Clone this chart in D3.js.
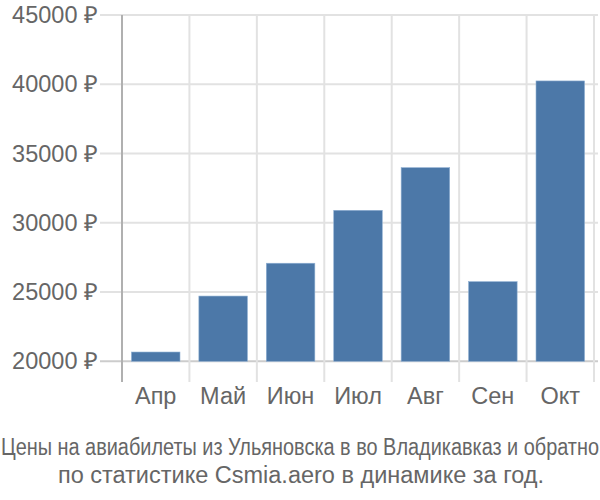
<!DOCTYPE html>
<html>
<head>
<meta charset="utf-8">
<script src="https://cdn.jsdelivr.net/npm/d3@7"></script>
<style>
  body { margin: 0; background: #fff; }
  text { font-family: "Liberation Sans", Arial, sans-serif; }
</style>
</head>
<body>
<script>

// Data
var months = ["Апр", "Май", "Июн", "Июл", "Авг", "Сен", "Окт"];
var prices = [20670, 24710, 27080, 30900, 33980, 25750, 40240];
var yTicks = [20000, 25000, 30000, 35000, 40000, 45000];

var captionLine1 = "Цены на авиабилеты из Ульяновска в во Владикавказ и обратно";
var captionLine2 = "по статистике Csmia.aero в динамике за год.";

drawChart();

function drawChart(){

  var w = 600;
  var h = 500;

  var svg = d3.select("body")
              .append("svg")
              .attr("width", w)
              .attr("height", h);

  // plot area
  var left = 122, right = 594, top = 15, bottom = 361.3;

  var xScale = d3.scaleBand()
                .domain(months)
                .range([left, right]);

  var yScale = d3.scaleLinear()
                .domain([20000, 45000])
                .range([bottom, top]);

  var grid = svg.append("g");

  // horizontal grid lines (with little tick stubs on the left)
  grid.selectAll(".hgrid")
      .data(yTicks)
      .enter()
      .append("line")
      .attr("x1", 100)
      .attr("x2", 598)
      .attr("y1", d => yScale(d))
      .attr("y2", d => yScale(d))
      .attr("stroke", d => d == 20000 ? "#cccccc" : "#e2e2e2")
      .attr("stroke-width", 2);

  // vertical grid lines at band edges
  var edges = months.map(m => xScale(m)).concat([right]);
  grid.selectAll(".vgrid")
      .data(edges.slice(1))
      .enter()
      .append("line")
      .attr("x1", d => d)
      .attr("x2", d => d)
      .attr("y1", top)
      .attr("y2", 382)
      .attr("stroke", "#e2e2e2")
      .attr("stroke-width", 2);

  // y axis line
  svg.append("line")
     .attr("x1", left)
     .attr("x2", left)
     .attr("y1", top)
     .attr("y2", 382)
     .attr("stroke", "#b0b0b0")
     .attr("stroke-width", 2);

  // bars
  var barW = xScale.bandwidth() * 0.72;
  svg.selectAll("rect")
     .data(prices)
     .enter()
     .append("rect")
     .attr("x", (d, i) => xScale(months[i]) + (xScale.bandwidth() - barW) / 2)
     .attr("y", d => yScale(d))
     .attr("width", barW)
     .attr("height", d => yScale(20000) - yScale(d))
     .attr("fill", "#4c78a8")
     .attr("stroke", "#8fb0d3")
     .attr("stroke-width", 0.6);

  // y labels
  svg.selectAll(".ylab")
     .data(yTicks)
     .enter()
     .append("text")
     .attr("x", 98)
     .attr("y", d => yScale(d) + 8)
     .attr("text-anchor", "end")
     .attr("font-size", 23.5)
     .attr("fill", "#666")
     .text(d => d + " ₽");

  // x labels
  svg.selectAll(".xlab")
     .data(months)
     .enter()
     .append("text")
     .attr("x", d => xScale(d) + xScale.bandwidth() / 2)
     .attr("y", 404)
     .attr("text-anchor", "middle")
     .attr("font-size", 23.5)
     .attr("fill", "#666")
     .text(d => d);

  // caption
  svg.append("text")
     .attr("x", 1)
     .attr("y", 455)
     .attr("font-size", 23)
     .attr("fill", "#666")
     .attr("textLength", 598)
     .attr("lengthAdjust", "spacingAndGlyphs")
     .text(captionLine1);

  svg.append("text")
     .attr("x", w / 2 + 1)
     .attr("y", 483)
     .attr("text-anchor", "middle")
     .attr("font-size", 23.5)
     .attr("fill", "#666")
     .text(captionLine2);
};

</script>
</body>
</html>
